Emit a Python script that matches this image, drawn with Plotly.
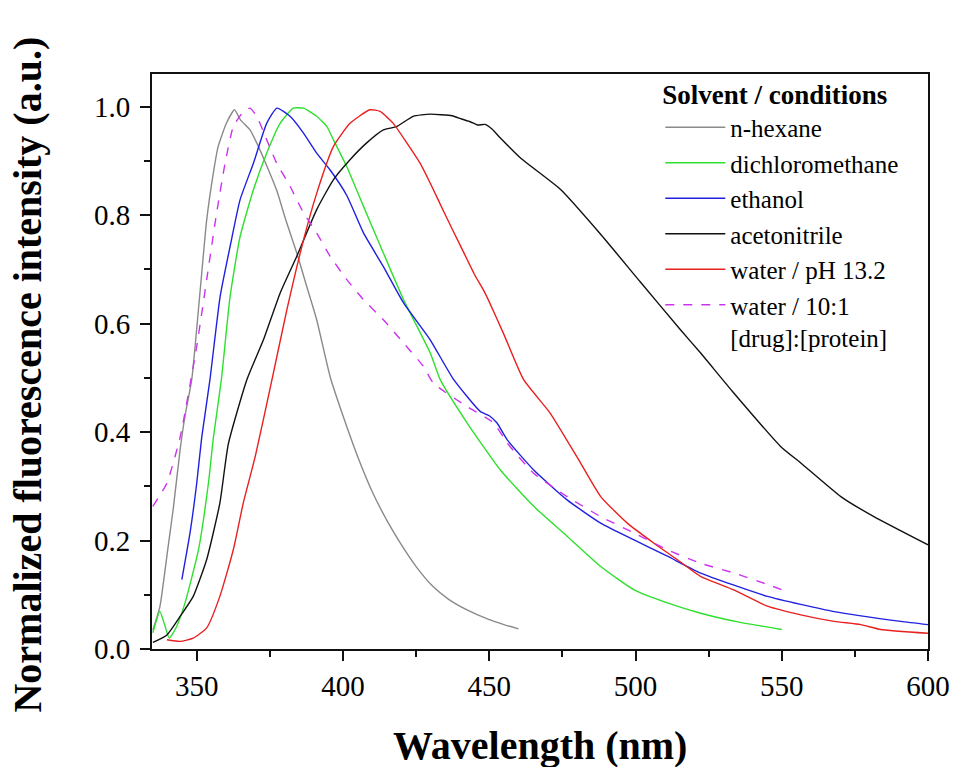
import plotly.graph_objects as go

# ---- data ----
hex_x = [335, 337.4, 340, 342, 344.3, 346, 348.3, 351.1, 353.4, 355.7, 357.3, 360.2, 362.9, 365, 368.2, 370.5,
         374, 377.3, 380.5, 384.2, 387.5, 391, 395.6, 400, 405, 410, 415, 419.5, 425, 430.8, 436, 442.4, 450, 455, 460]
hex_y = [0.035, 0.078, 0.18, 0.26, 0.367, 0.43, 0.497, 0.657, 0.791, 0.878, 0.926, 0.97, 0.994, 0.975, 0.957, 0.933,
         0.89, 0.846, 0.79, 0.73, 0.67, 0.607, 0.502, 0.43, 0.355, 0.29, 0.237, 0.196, 0.152, 0.115, 0.092, 0.072, 0.054, 0.045, 0.037]

dcm_x = [335, 337.4, 339, 340.6, 343, 346, 350.6, 354, 355.7, 358.4, 361.4, 364.8, 369.4, 373.9, 378.5, 383, 386.5, 391,
         394.5, 396.7, 401.3, 407, 413.8, 420.7, 429.8, 433.2, 442.4, 453.8, 465.2, 476.6, 488.1, 499.5, 510.9, 522.3,
         535, 550]
dcm_y = [0.03, 0.069, 0.045, 0.02, 0.04, 0.085, 0.183, 0.306, 0.39, 0.496, 0.65, 0.76, 0.847, 0.914, 0.969, 0.997, 0.997,
         0.982, 0.963, 0.939, 0.889, 0.816, 0.73, 0.644, 0.546, 0.497, 0.417, 0.33, 0.263, 0.208, 0.152, 0.109, 0.085,
         0.066, 0.05, 0.036]

eth_x = [344.9, 347.7, 350, 351.7, 354.5, 358, 361.4, 364.8, 369.4, 373.9, 377.4, 381.9, 386.5, 391, 395.6, 401.3, 407,
         413.8, 420.7, 429.8, 437.8, 446.9, 450, 452.6, 456.1, 465.2, 476.6, 488.1, 499.5, 510.9, 522.3, 545.1, 567.9,
         590.7, 600]
eth_y = [0.128, 0.214, 0.306, 0.39, 0.496, 0.65, 0.742, 0.828, 0.896, 0.969, 0.997, 0.982, 0.951, 0.914, 0.883, 0.836,
         0.767, 0.705, 0.638, 0.57, 0.497, 0.438, 0.43, 0.417, 0.386, 0.33, 0.275, 0.232, 0.201, 0.171, 0.14, 0.097,
         0.069, 0.051, 0.045]

acn_x = [335, 339.8, 344.3, 348.8, 353.4, 357.9, 360.8, 367.1, 372.8, 378.5, 384.2, 391, 396.7, 402.4, 408.1, 413.8,
         418.3, 424, 429.8, 437.3, 440.5, 443.5, 446, 448.6, 451, 453.8, 460.7, 474.4, 488, 501.6, 515.3, 522.2,
         533.6, 549.7, 556.5, 570.2, 581.5, 600]
acn_y = [0.012, 0.026, 0.06, 0.097, 0.165, 0.269, 0.378, 0.496, 0.57, 0.656, 0.724, 0.81, 0.865, 0.902, 0.933, 0.957,
         0.963, 0.982, 0.986, 0.983, 0.977, 0.972, 0.966, 0.967, 0.958, 0.942, 0.905, 0.847, 0.765, 0.677, 0.589, 0.546,
         0.472, 0.373, 0.343, 0.281, 0.244, 0.192]

wat_x = [339.8, 344.3, 348.8, 353.4, 357.9, 362.5, 365.9, 370, 375.7, 380.8, 386.5, 391, 396.7, 402.4, 409.2, 412.7,
         417.2, 421.8, 426.3, 429.8, 435, 440, 445, 448, 450, 455, 461.7, 470.8, 479.9, 488.1, 497.2, 506.3, 514.2,
         522.2, 533.6, 545.1, 556.5, 567.9, 577, 583.8, 600]
wat_y = [0.017, 0.014, 0.02, 0.039, 0.097, 0.183, 0.269, 0.355, 0.496, 0.625, 0.754, 0.84, 0.926, 0.969, 0.994, 0.991,
         0.969, 0.933, 0.896, 0.859, 0.8, 0.745, 0.69, 0.662, 0.64, 0.58, 0.497, 0.435, 0.355, 0.281, 0.232, 0.195, 0.165,
         0.134, 0.109, 0.079, 0.063, 0.051, 0.045, 0.036, 0.029]

prot_x = [335, 339.8, 344.3, 350, 353.4, 356.8, 359.7, 362.5, 366, 368.2, 370.5, 373.9, 377.3, 381.9, 386.5, 391,
          395.6, 401.3, 407, 413.8, 420.7, 427.5, 430.9, 442.4, 451.5, 456.1, 465.2, 476.6, 488.1, 499.5, 510.9,
          522.3, 533.7, 545.1, 550.2]
prot_y = [0.263, 0.306, 0.39, 0.558, 0.681, 0.804, 0.896, 0.963, 0.991, 0.997, 0.982, 0.939, 0.896, 0.853, 0.804, 0.767,
          0.724, 0.681, 0.644, 0.607, 0.564, 0.521, 0.49, 0.447, 0.417, 0.38, 0.324, 0.281, 0.244, 0.214, 0.183,
          0.158, 0.14, 0.119, 0.109]

series = [
    ("n-hexane", hex_x, hex_y, "#8a8a8a", "solid"),
    ("dichloromethane", dcm_x, dcm_y, "#2ee02e", "solid"),
    ("ethanol", eth_x, eth_y, "#2020e0", "solid"),
    ("acetonitrile", acn_x, acn_y, "#111111", "solid"),
    ("water / pH 13.2", wat_x, wat_y, "#e82020", "solid"),
    ("water / 10:1<br>[drug]:[protein]", prot_x, prot_y, "#cc33ee", "dash"),
]

x_ticks = [350, 400, 450, 500, 550, 600]
y_ticks = [0.0, 0.2, 0.4, 0.6, 0.8, 1.0]

FONT = "Liberation Serif, Times New Roman, serif"

fig = go.Figure()
for name, xs, ys, col, dash in series:
    fig.add_trace(go.Scatter(x=xs, y=ys, mode="lines", name=name,
                             line=dict(color=col, width=1.4, dash=dash, shape="spline", smoothing=0.5)))

axis_common = dict(
    showgrid=False, zeroline=False, showline=True, linecolor="#111", linewidth=2,
    mirror=True, ticks="outside", ticklen=10, tickwidth=2, tickcolor="#111",
    tickfont=dict(family=FONT, size=29, color="black"), automargin=False,
)
fig.update_xaxes(range=[334.7, 600], tickvals=x_ticks,
                 minor=dict(dtick=25, tick0=325, ticks="outside", ticklen=6, tickwidth=2, tickcolor="#111"),
                 **axis_common)
fig.update_yaxes(range=[0, 1.06], tickvals=y_ticks, tickformat=".1f", ticklabelstandoff=4,
                 minor=dict(dtick=0.1, tick0=0, ticks="outside", ticklen=6, tickwidth=2, tickcolor="#111"),
                 **axis_common)

fig.update_layout(
    width=957, height=767,
    margin=dict(l=152, r=29, t=74, b=118),
    plot_bgcolor="white", paper_bgcolor="white",
    font=dict(family=FONT, color="black"),
    legend=dict(
        x=0.655, y=1.008, xanchor="left", yanchor="top",
        bgcolor="rgba(0,0,0,0)", borderwidth=0,
        font=dict(family=FONT, size=25, color="black"),
        title=dict(text="<b>Solvent / conditions</b>", font=dict(family=FONT, size=27, color="black")),
        valign="top", tracegroupgap=0, itemwidth=60,
    ),
    annotations=[
        dict(text="<b>Wavelength (nm)</b>", xref="paper", yref="paper", x=0.5, y=-0.168,
             xanchor="center", yanchor="middle", showarrow=False,
             font=dict(family=FONT, size=40, color="black")),
        dict(text="<b>Normalized fluorescence intensity (a.u.)</b>", xref="paper", yref="paper",
             x=-0.16, y=0.477, xanchor="center", yanchor="middle", textangle=-90, showarrow=False,
             font=dict(family=FONT, size=40, color="black")),
    ],
)

fig.write_html("out.html")
